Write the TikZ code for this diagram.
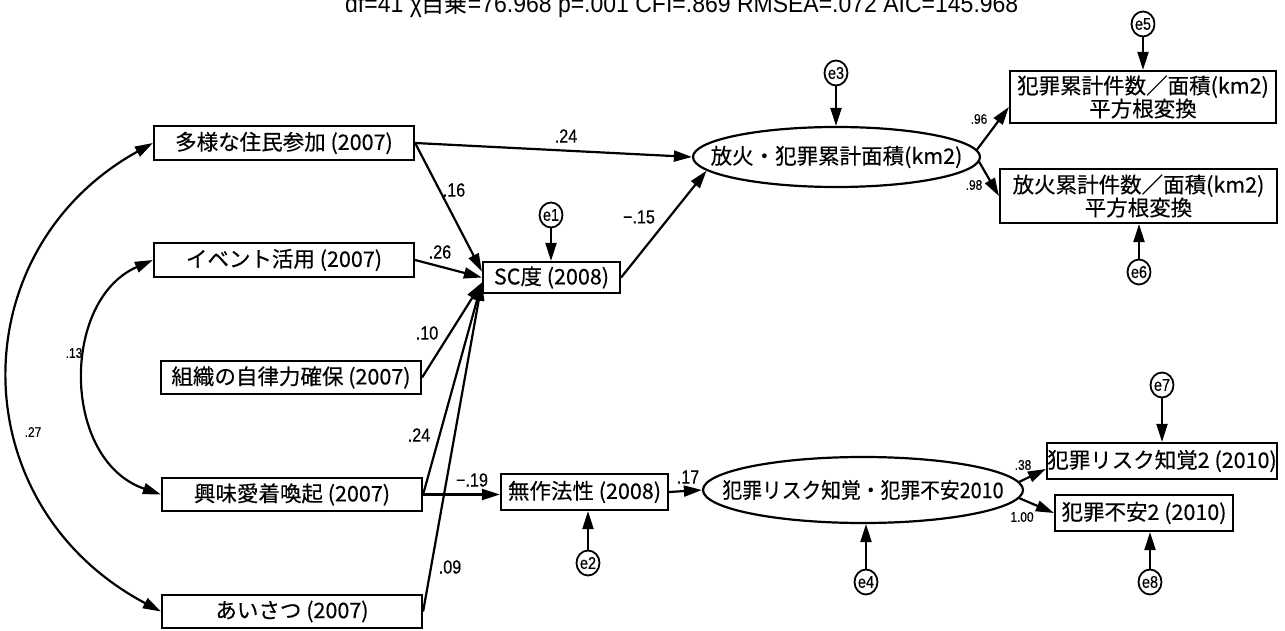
\documentclass[tikz,border=0pt]{standalone}
\usepackage{fontspec}
\setmainfont[FakeBold=0.3]{Noto Sans CJK JP}
\newfontfamily\narrowjp[FakeStretch=0.92,FakeBold=0.3]{Noto Sans CJK JP}
\newfontfamily\labfont[FakeStretch=0.85,FakeBold=0.4]{Liberation Sans}
\newfontfamily\titlefont[FakeStretch=0.92]{Liberation Sans}
\newfontfamily\titlejp[FakeStretch=0.92]{Noto Sans CJK JP}
\usetikzlibrary{arrows.meta,shapes.geometric}
\tikzset{
  box/.style={draw, line width=2.2pt, inner sep=0pt, align=center, font=\fontsize{21.5}{23}\selectfont},
  lat/.style={draw, ellipse, line width=2.2pt, inner sep=0pt, font=\fontsize{21.5}{23}\selectfont},
  err/.style={draw, ellipse, line width=1.8pt, minimum width=23pt, minimum height=25pt, inner sep=0pt, font=\labfont\fontsize{17}{17}\selectfont},
  arr/.style={line width=2.2pt, -{Triangle[length=18pt,width=11pt]}},
  darr/.style={line width=2.2pt, {Triangle[length=18pt,width=11pt]}-{Triangle[length=18pt,width=11pt]}},
  lab/.style={font=\labfont\fontsize{19}{19}\selectfont, inner sep=0pt},
  slab/.style={font=\labfont\fontsize{14}{14}\selectfont, inner sep=0pt},
}
\begin{document}
\begin{tikzpicture}[x=1pt,y=-1pt]
\useasboundingbox (0,0) rectangle (1285,631);
\fill[white] (0,0) rectangle (1285,631);
% title (cut at the top)
\node[anchor=base west, inner sep=0pt, font=\fontsize{25}{25}\selectfont] (title) at (345,13)
  {{\titlefont df=41 χ}{\titlejp 自乗}{\titlefont =76.968 p=.001 CFI=.869 RMSEA=.072 AIC=145.968}};
% exogenous boxes
\node[box, minimum width=260, minimum height=34] (b1) at (284,143) {多様な住民参加 (2007)};
\node[box, minimum width=260, minimum height=34] (b2) at (284,260) {イベント活用 (2007)};
\node[box, minimum width=260, minimum height=33] (b3) at (291,377.5) {組織の自律力確保 (2007)};
\node[box, minimum width=260, minimum height=33] (b4) at (292,494.5) {興味愛着喚起 (2007)};
\node[box, minimum width=260, minimum height=33] (b5) at (292,611.5) {あいさつ (2007)};
% mediators
\node[box, minimum width=137, minimum height=31] (sc) at (551.5,277.5) {SC度 (2008)};
\node[box, minimum width=167, minimum height=36] (mu) at (584.5,492) {無作法性 (2008)};
% latent
\node[lat, minimum width=287, minimum height=60] (L1) at (836.5,157) {\makebox[0pt]{放火・犯罪累計面積(km2)}};
\node[lat, minimum width=320, minimum height=66] (L2) at (863,490) {\makebox[0pt]{\narrowjp 犯罪リスク知覚・犯罪不安2010}};
% indicators
\node[box, minimum width=266, minimum height=52] (r1) at (1143,97) {犯罪累計件数／面積(km2)\\平方根変換};
\node[box, minimum width=277, minimum height=54] (r2) at (1138.5,196) {放火累計件数／面積(km2)\\平方根変換};
\node[box, minimum width=230, minimum height=36] (r3) at (1162,461) {犯罪リスク知覚2 (2010)};
\node[box, minimum width=178, minimum height=36] (r4) at (1144,513) {犯罪不安2 (2010)};
% errors
\node[err] (e1) at (551,215) {\makebox[0pt]{e1}};
\node[err] (e2) at (588,563) {\makebox[0pt]{e2}};
\node[err] (e3) at (836,73) {\makebox[0pt]{e3}};
\node[err] (e4) at (866,582) {\makebox[0pt]{e4}};
\node[err] (e5) at (1143,24) {\makebox[0pt]{e5}};
\node[err] (e6) at (1139,272) {\makebox[0pt]{e6}};
\node[err] (e7) at (1162,385) {\makebox[0pt]{e7}};
\node[err] (e8) at (1150,582) {\makebox[0pt]{e8}};
% error arrows
\draw[arr] (e1) -- (e1 |- sc.north);
\draw[arr] (e2) -- (e2 |- mu.south);
\draw[arr] (e3) -- (e3 |- L1.north);
\draw[arr] (e4) -- (e4 |- L2.south);
\draw[arr] (e5) -- (e5 |- r1.north);
\draw[arr] (e6) -- (e6 |- r2.south);
\draw[arr] (e7) -- (e7 |- r3.north);
\draw[arr] (e8) -- (e8 |- r4.south);
% paths
\draw[arr] (b1.east) -- (L1.west);
\draw[arr] (b1.east) -- ([yshift=6pt]sc.west);
\draw[arr] (b2.east) -- (sc.west);
\draw[arr] (b3.east) -- ([yshift=-5pt]sc.west);
\draw[arr] (b4.east) -- ([yshift=-5pt]sc.west);
\draw[arr] (b5.east) -- ([yshift=-5pt]sc.west);
\draw[arr] (b4.east) -- (b4.east -| mu.west);
\draw[arr] (sc.east) -- (L1.186);
\draw[arr] (mu.east) -- (L2.west);
\draw[arr] (L1.3) -- ([yshift=-10pt]r1.west);
\draw[arr] (L1.-2) -- (r2.west);
\draw[arr] (L2.3) -- ([yshift=-8pt]r3.west);
\draw[arr] (L2.-3) -- (r4.west);
% correlations
\draw[darr] (b1.west) .. controls (-40,250) and (-40,505) .. (b5.west);
\draw[darr] (b2.west) .. controls (61,300) and (61,460) .. (b4.west);
% labels
\node[lab] (l1) at (566,136) {.24};
\node[lab] (l2) at (454,190) {.16};
\node[lab] (l3) at (639,217) {−.15};
\node[lab] (l4) at (440,252) {.26};
\node[lab] (l5) at (427,333) {.10};
\node[lab] (l6) at (419,435) {.24};
\node[lab] (l7) at (450,567) {.09};
\node[lab] (l8) at (472,480) {−.19};
\node[lab] (l9) at (688,477) {.17};
\node[slab] (l10) at (74,353) {.13};
\node[slab] (l11) at (33,432) {.27};
\node[slab] (l12) at (979,119) {.96};
\node[slab] (l13) at (974,185) {.98};
\node[slab] (l14) at (1023,465) {.38};
\node[slab] (l15) at (1022,517) {1.00};
\end{tikzpicture}
\end{document}
